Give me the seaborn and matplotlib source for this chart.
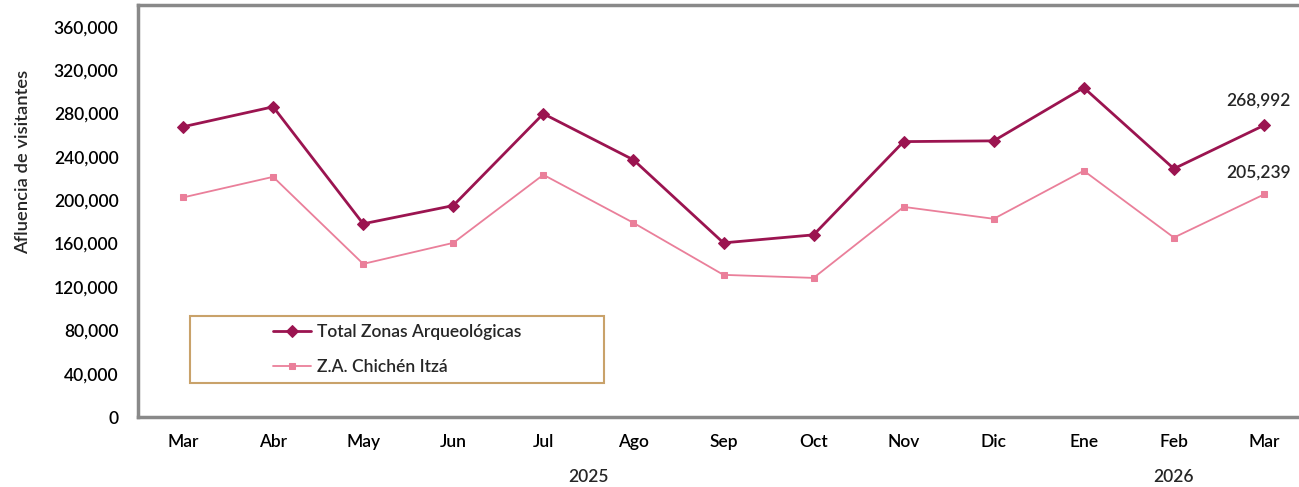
import numpy as np
import pandas as pd
import matplotlib
matplotlib.use('Agg')
import matplotlib.pyplot as plt
import seaborn as sns
from matplotlib.patches import Rectangle
from matplotlib.ticker import FuncFormatter

# Datos
meses = ['Mar', 'Abr', 'May', 'Jun', 'Jul', 'Ago', 'Sep', 'Oct', 'Nov', 'Dic', 'Ene', 'Feb', 'Mar']
total_zonas = [267700, 286100, 178200, 195000, 279700, 237200, 160600, 168000,
               254000, 254700, 303700, 229000, 268992]
chichen_itza = [202500, 221500, 141200, 160600, 223400, 179100, 131100, 128300,
                193800, 182800, 227100, 165500, 205239]
anios = ['2025', '2026']
y_ticks = [0, 40000, 80000, 120000, 160000, 200000, 240000, 280000, 320000, 360000]

sns.set_theme(style='white')
plt.rcParams['font.family'] = ['Lato', 'DejaVu Sans']
plt.rcParams['font.weight'] = 'semibold'
plt.rcParams['axes.labelweight'] = 'semibold'

color_total = '#9B1450'
color_chichen = '#EA7F9A'

df = pd.DataFrame({'pos': np.arange(len(meses)), 'total': total_zonas, 'chichen': chichen_itza})

fig = plt.figure(figsize=(12.99, 4.87), dpi=100)
ax = fig.add_axes([138 / 1299, 1 - 417 / 487, 1171 / 1299, 412 / 487])

sns.lineplot(data=df, x='pos', y='total', ax=ax, color=color_total, linewidth=2.0,
             marker='D', markersize=6.5, markeredgecolor=color_total,
             label='Total Zonas Arqueológicas')
sns.lineplot(data=df, x='pos', y='chichen', ax=ax, color=color_chichen, linewidth=1.3,
             marker='s', markersize=5, markeredgecolor=color_chichen,
             label='Z.A. Chichén Itzá')

ax.set_xlim(-0.5, len(meses) - 0.5)
ax.set_ylim(0, 380000)
ax.set_yticks(y_ticks)
ax.yaxis.set_major_formatter(FuncFormatter(lambda v, p: f'{v:,.0f}'))
ax.set_xticks(range(len(meses)))
ax.set_xticklabels(meses)
ax.tick_params(axis='both', length=0, labelsize=12.5, colors='black')
ax.tick_params(axis='x', pad=12)
ax.tick_params(axis='y', pad=14)
ax.set_xlabel('')
ax.set_ylabel('Afluencia de visitantes', fontsize=13.2)
ax.yaxis.set_label_coords(-0.091, 0.62)

for s in ax.spines.values():
    s.set_color('#898989')
    s.set_linewidth(2.5)

# años debajo de los meses
ax.text(4.5, -0.145, anios[0], transform=ax.get_xaxis_transform(),
        ha='center', va='center', fontsize=12.5)
ax.text(11, -0.145, anios[1], transform=ax.get_xaxis_transform(),
        ha='center', va='center', fontsize=12.5)

# etiquetas del último punto
ax.annotate(f'{total_zonas[-1]:,}', (len(meses) - 1, total_zonas[-1]), xytext=(-4, 12),
            textcoords='offset points', ha='center', va='bottom', fontsize=12.5)
ax.annotate(f'{chichen_itza[-1]:,}', (len(meses) - 1, chichen_itza[-1]), xytext=(-4, 10),
            textcoords='offset points', ha='center', va='bottom', fontsize=12.5)

# leyenda con recuadro
bx, by, bw, bh = 52 / 1171, 34 / 412, 414 / 1171, 67 / 412
ax.add_patch(Rectangle((bx, by), bw, bh, transform=ax.transAxes, fill=False,
                       edgecolor='#C9A26A', linewidth=1.5, zorder=5))
ax.legend(loc='center', bbox_to_anchor=(bx, by, bw, bh), frameon=False,
          fontsize=12.5, handlelength=2.2, handletextpad=0.3, labelspacing=1.1)

plt.savefig('out.png', dpi=100)
plt.close()
